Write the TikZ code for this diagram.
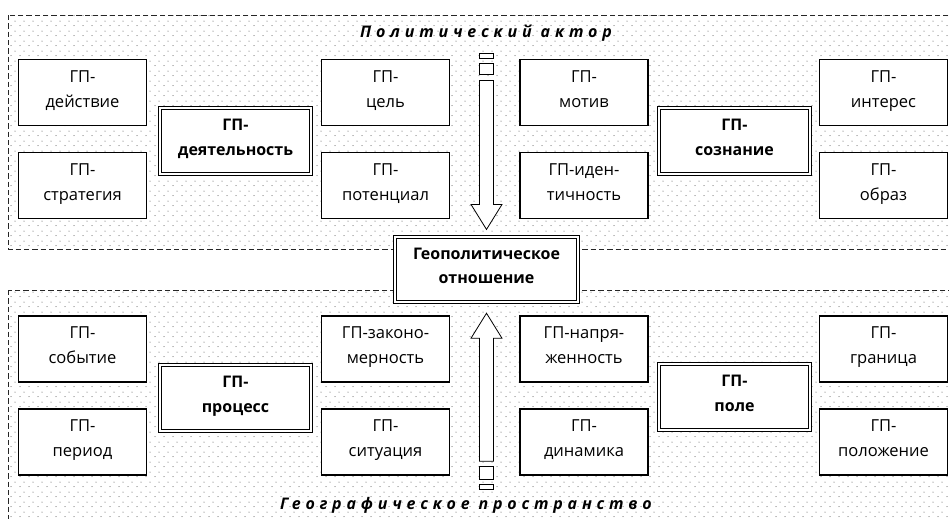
\documentclass[tikz,border=0pt]{standalone}
\usepackage{fontspec}
\setmainfont{Open Sans}
\newfontfamily\spacedfont[LetterSpace=30]{Open Sans}
\usepackage{tikz}
\usetikzlibrary{patterns.meta}

\tikzdeclarepattern{
  name=sparsedots,
  type=uncolored,
  bottom left={(0pt,0pt)},
  top right={(6.75pt,7.5pt)},
  tile size={(6.75pt,7.5pt)},
  code={
    \fill (1.7pt,1.9pt) circle (0.4pt);
    \fill (5.05pt,5.65pt) circle (0.4pt);
  }
}

\begin{document}
\begin{tikzpicture}[x=0.75pt,y=-0.75pt,
      every node/.append style={font=\fontsize{12.4}{18.6}\selectfont,align=center},
      panel/.style={draw=black!85,line width=0.7pt,dash pattern=on 4pt off 2.25pt,
        pattern=sparsedots,pattern color=black!75},
      term/.style={draw=black,fill=white,line width=1pt,
        minimum width=96pt,minimum height=49.5pt,inner sep=1pt,
        execute at begin node={\rule{0pt}{15.2pt}},execute at end node=\strut},
      group/.style={draw=black,fill=white,line width=0.6pt,double=white,double distance=1.5pt,
        minimum width=113.5pt,minimum height=49.8pt,inner sep=1pt,
        font=\fontsize{12}{18.5}\selectfont\bfseries,
        execute at begin node={\rule{0pt}{14.4pt}},execute at end node=\strut},
      pointer/.style={draw=black,fill=white,line width=0.6pt},
      caption/.style={font=\fontsize{12}{16}\spacedfont\bfseries\itshape,inner sep=0pt}]
    \useasboundingbox (0,0) rectangle (949,518);
    % two fields
    \path[panel] (8,15) rectangle (965,249);
    \path[panel] (8,290) rectangle (965,535);
    \node (actor) [caption] at (486,33) {Политический актор};
    \node (space) [caption] at (466,505) {Географическое пространство};
    % actor side
    \node (action) [term] at (82.5,92.5) {ГП-\\действие};
    \node (strategy) [term] at (82.5,185.5) {ГП-\\стратегия};
    \node (activity) [group] at (235.5,141) {ГП-\\деятельность};
    \node (goal) [term] at (385.5,92.5) {ГП-\\цель};
    \node (potential) [term] at (385.5,185.5) {ГП-\\потенциал};
    \node (motive) [term] at (584,92.5) {ГП-\\мотив};
    \node (identity) [term] at (584,185.5) {ГП-иден-\\тичность};
    \node (mind) [group] at (734.5,141) {ГП-\\сознание};
    \node (interest) [term] at (883.5,92.5) {ГП-\\интерес};
    \node (image) [term] at (883.5,185.5) {ГП-\\образ};
    % space side
    \node (event) [term] at (82.5,349) {ГП-\\событие};
    \node (period) [term] at (82.5,442) {ГП-\\период};
    \node (process) [group] at (235.5,398) {ГП-\\процесс};
    \node (law) [term] at (385.5,349) {ГП-законо-\\мерность};
    \node (situation) [term] at (385.5,442) {ГП-\\ситуация};
    \node (tension) [term] at (584,349) {ГП-напря-\\женность};
    \node (dynamics) [term] at (584,442) {ГП-\\динамика};
    \node (field) [group] at (734.5,397) {ГП-\\поле};
    \node (border) [term] at (883.5,349) {ГП-\\граница};
    \node (position) [term] at (883.5,442) {ГП-\\положение};
    % centre
    \node (relation) [group,minimum width=137.5pt,minimum height=49pt] at (486.5,269.5) {Геополитическое\\отношение};
    \coordinate (downtip) at ([yshift=5.25pt]relation.north);
    \coordinate (uptip) at ([yshift=-8pt]relation.south);
    % striped arrows
    \begin{scope}[shift={(downtip)}]
      \draw[pointer] (-7,-149) -- (7,-149) -- (7,-25) -- (15.5,-25) -- (0,0) -- (-15.5,-25) -- (-7,-25) -- cycle;
      \draw[pointer] (-7,-155) rectangle (7,-166);
      \draw[pointer] (-7,-171) rectangle (7,-176);
    \end{scope}
    \begin{scope}[shift={(uptip)}]
      \draw[pointer] (0,0) -- (15.5,25) -- (7,25) -- (7,148) -- (-7,148) -- (-7,25) -- (-15.5,25) -- cycle;
      \draw[pointer] (-7,153) rectangle (7,166);
      \draw[pointer] (-7,171) rectangle (7,176);
    \end{scope}
  \end{tikzpicture}
\end{document}
